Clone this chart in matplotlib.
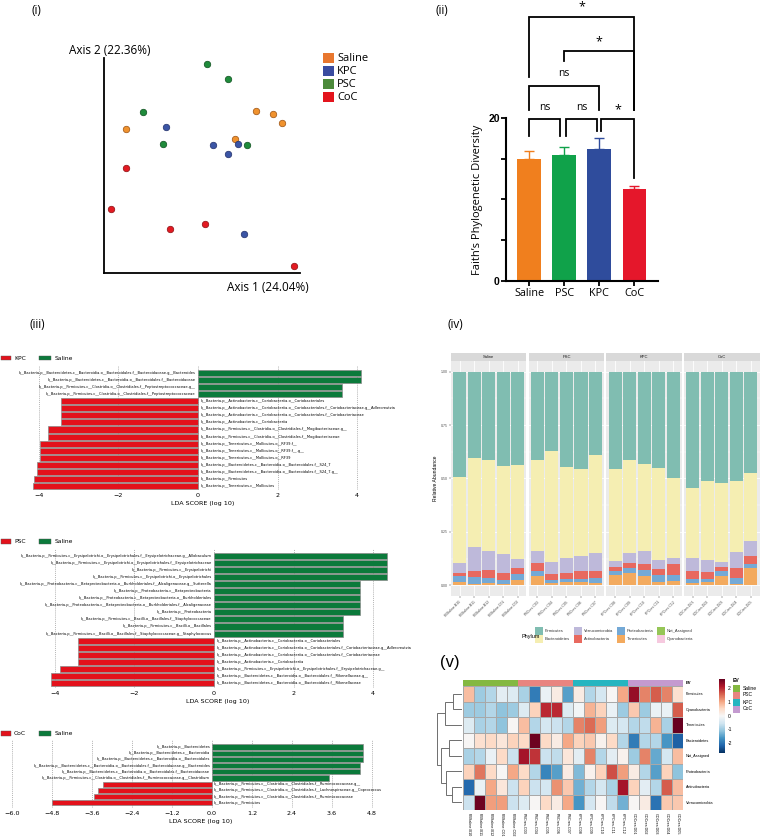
import numpy as np
import matplotlib
matplotlib.use("Agg")
import matplotlib.pyplot as plt
from matplotlib.patches import Rectangle
from matplotlib.cm import ScalarMappable
from matplotlib.colors import Normalize

plt.rcParams['font.family'] = ['DejaVu Sans']
W, H = 761, 838
fig = plt.figure(figsize=(W / 100, H / 100), dpi=100)
fig.patch.set_facecolor('white')

SANS_A = ['Open Sans', 'DejaVu Sans']
SANS_R = ['Liberation Sans', 'DejaVu Sans']

# ---------------------------------------------------------------- data
# (i) PCoA scores
pcoa_groups = ["Saline", "KPC", "PSC", "CoC"]
pc1_saline = [0.276, 0.362, 0.408, -0.388, 0.168]
pc2_saline = [0.253, 0.240, 0.198, 0.170, 0.123]
pc1_kpc = [-0.184, 0.056, 0.184, 0.133, 0.214]
pc2_kpc = [0.179, 0.095, 0.100, 0.053, -0.319]
pc1_psc = [0.026, 0.133, -0.301, -0.199, 0.230]
pc2_psc = [0.472, 0.402, 0.249, 0.100, 0.095]
pc1_coc = [-0.388, -0.464, -0.163, 0.015, 0.469]
pc2_coc = [-0.012, -0.202, -0.295, -0.272, -0.467]

# (ii) Faith's PD
faith_groups = ["Saline", "PSC", "KPC", "CoC"]
faith_mean = [14.95, 15.5, 16.2, 11.25]
faith_sem = [0.95, 1.0, 1.35, 0.35]

# (iii) LEfSe
kpc_names = [
    "k__Bacteria.p__Bacteroidetes.c__Bacteroidia.o__Bacteroidales.f__Bacteroidaceae.g__Bacteroides",
    "k__Bacteria.p__Bacteroidetes.c__Bacteroidia.o__Bacteroidales.f__Bacteroidaceae",
    "k__Bacteria.p__Firmicutes.c__Clostridia.o__Clostridiales.f__Peptostreptococcaceae.g__",
    "k__Bacteria.p__Firmicutes.c__Clostridia.o__Clostridiales.f__Peptostreptococcaceae",
    "k__Bacteria.p__Actinobacteria.c__Coriobacteriia.o__Coriobacteriales",
    "k__Bacteria.p__Actinobacteria.c__Coriobacteriia.o__Coriobacteriales.f__Coriobacteriaceae.g__Adlercreutzia",
    "k__Bacteria.p__Actinobacteria.c__Coriobacteriia.o__Coriobacteriales.f__Coriobacteriaceae",
    "k__Bacteria.p__Actinobacteria.c__Coriobacteriia",
    "k__Bacteria.p__Firmicutes.c__Clostridia.o__Clostridiales.f__Mogibacteriaceae.g__",
    "k__Bacteria.p__Firmicutes.c__Clostridia.o__Clostridiales.f__Mogibacteriaceae",
    "k__Bacteria.p__Tenericutes.c__Mollicutes.o__RF39.f__",
    "k__Bacteria.p__Tenericutes.c__Mollicutes.o__RF39.f__.g__",
    "k__Bacteria.p__Tenericutes.c__Mollicutes.o__RF39",
    "k__Bacteria.p__Bacteroidetes.c__Bacteroidia.o__Bacteroidales.f__S24_7",
    "k__Bacteria.p__Bacteroidetes.c__Bacteroidia.o__Bacteroidales.f__S24_7.g__",
    "k__Bacteria.p__Firmicutes",
    "k__Bacteria.p__Tenericutes.c__Mollicutes",
]
kpc_lda = [4.1, 4.1, 3.61, 3.61, -3.45, -3.45, -3.45, -3.45, -3.78, -3.78,
           -3.97, -3.97, -3.97, -4.05, -4.05, -4.12, -4.14]

psc_names = [
    "k__Bacteria.p__Firmicutes.c__Erysipelotrichi.o__Erysipelotrichales.f__Erysipelotrichaceae.g__Allobaculum",
    "k__Bacteria.p__Firmicutes.c__Erysipelotrichi.o__Erysipelotrichales.f__Erysipelotrichaceae",
    "k__Bacteria.p__Firmicutes.c__Erysipelotrichi",
    "k__Bacteria.p__Firmicutes.c__Erysipelotrichi.o__Erysipelotrichales",
    "k__Bacteria.p__Proteobacteria.c__Betaproteobacteria.o__Burkholderiales.f__Alcaligenaceae.g__Sutterella",
    "k__Bacteria.p__Proteobacteria.c__Betaproteobacteria",
    "k__Bacteria.p__Proteobacteria.c__Betaproteobacteria.o__Burkholderiales",
    "k__Bacteria.p__Proteobacteria.c__Betaproteobacteria.o__Burkholderiales.f__Alcaligenaceae",
    "k__Bacteria.p__Proteobacteria",
    "k__Bacteria.p__Firmicutes.c__Bacilli.o__Bacillales.f__Staphylococcaceae",
    "k__Bacteria.p__Firmicutes.c__Bacilli.o__Bacillales",
    "k__Bacteria.p__Firmicutes.c__Bacilli.o__Bacillales.f__Staphylococcaceae.g__Staphylococcus",
    "k__Bacteria.p__Actinobacteria.c__Coriobacteriia.o__Coriobacteriales",
    "k__Bacteria.p__Actinobacteria.c__Coriobacteriia.o__Coriobacteriales.f__Coriobacteriaceae.g__Adlercreutzia",
    "k__Bacteria.p__Actinobacteria.c__Coriobacteriia.o__Coriobacteriales.f__Coriobacteriaceae",
    "k__Bacteria.p__Actinobacteria.c__Coriobacteriia",
    "k__Bacteria.p__Firmicutes.c__Erysipelotrichi.o__Erysipelotrichales.f__Erysipelotrichaceae.g__",
    "k__Bacteria.p__Bacteroidetes.c__Bacteroidia.o__Bacteroidales.f__Rikenellaceae.g__",
    "k__Bacteria.p__Bacteroidetes.c__Bacteroidia.o__Bacteroidales.f__Rikenellaceae",
]
psc_lda = [4.35, 4.35, 4.35, 4.35, 3.67, 3.67, 3.67, 3.67, 3.67, 3.25, 3.25, 3.25,
           -3.42, -3.42, -3.42, -3.42, -3.87, -4.1, -4.1]

coc_names = [
    "k__Bacteria.p__Bacteroidetes",
    "k__Bacteria.p__Bacteroidetes.c__Bacteroidia",
    "k__Bacteria.p__Bacteroidetes.c__Bacteroidia.o__Bacteroidales",
    "k__Bacteria.p__Bacteroidetes.c__Bacteroidia.o__Bacteroidales.f__Bacteroidaceae.g__Bacteroides",
    "k__Bacteria.p__Bacteroidetes.c__Bacteroidia.o__Bacteroidales.f__Bacteroidaceae",
    "k__Bacteria.p__Firmicutes.c__Clostridia.o__Clostridiales.f__Ruminococcaceae.g__Clostridium",
    "k__Bacteria.p__Firmicutes.c__Clostridia.o__Clostridiales.f__Ruminococcaceae.g__",
    "k__Bacteria.p__Firmicutes.c__Clostridia.o__Clostridiales.f__Lachnospiraceae.g__Coprococcus",
    "k__Bacteria.p__Firmicutes.c__Clostridia.o__Clostridiales.f__Ruminococcaceae",
    "k__Bacteria.p__Firmicutes",
]
coc_lda = [4.54, 4.54, 4.54, 4.44, 4.44, 3.51, -3.27, -3.42, -3.55, -4.8]

# (iv) relative abundance
facet_groups = ["Saline", "PSC", "KPC", "CoC"]
sample_ids = ["PBSaline.B10", "PBSaline.B11", "PBSaline.B12", "PBSaline.C01", "PBSaline.C02",
              "PSCres.C03", "PSCres.C04", "PSCres.C05", "PSCres.C06", "PSCres.C07",
              "KPCres.C08", "KPCres.C09", "KPCres.C10", "KPCres.C11", "KPCres.C12",
              "COCres.D01", "COCres.D02", "COCres.D03", "COCres.D04", "COCres.D05"]
phyla = ["Firmicutes", "Bacteroidetes", "Verrucomicrobia", "Actinobacteria",
         "Proteobacteria", "Tenericutes", "Not_Assigned", "Cyanobacteria"]
ab_firmicutes = [0.492, 0.402, 0.412, 0.441, 0.437, 0.412, 0.371, 0.444, 0.455, 0.388,
                 0.457, 0.412, 0.432, 0.449, 0.499, 0.546, 0.510, 0.521, 0.512, 0.473]
ab_bacteroidetes = [0.403, 0.419, 0.426, 0.414, 0.438, 0.429, 0.518, 0.426, 0.409, 0.459,
                    0.427, 0.435, 0.408, 0.432, 0.371, 0.327, 0.370, 0.369, 0.334, 0.319]
ab_verrucomicrobia = [0.046, 0.113, 0.088, 0.085, 0.046, 0.053, 0.059, 0.073, 0.067, 0.084,
                      0.028, 0.047, 0.060, 0.043, 0.031, 0.058, 0.058, 0.025, 0.074, 0.072]
ab_actinobacteria = [0.017, 0.029, 0.040, 0.034, 0.028, 0.037, 0.026, 0.029, 0.041, 0.035,
                     0.022, 0.026, 0.027, 0.027, 0.053, 0.038, 0.033, 0.019, 0.048, 0.037]
ab_proteobacteria = [0.025, 0.029, 0.023, 0.022, 0.028, 0.024, 0.015, 0.013, 0.014, 0.022,
                     0.017, 0.021, 0.030, 0.032, 0.027, 0.022, 0.015, 0.021, 0.027, 0.019]
ab_tenericutes = [0.015, 0.006, 0.009, 0.002, 0.021, 0.043, 0.009, 0.013, 0.012, 0.010,
                  0.047, 0.057, 0.041, 0.015, 0.017, 0.007, 0.012, 0.043, 0.003, 0.078]
ab_not_assigned = [0.001, 0.001, 0.001, 0.001, 0.001, 0.001, 0.001, 0.001, 0.001, 0.001,
                   0.001, 0.001, 0.001, 0.001, 0.001, 0.001, 0.001, 0.001, 0.001, 0.001]
ab_cyanobacteria = [0.001, 0.001, 0.001, 0.001, 0.001, 0.001, 0.001, 0.001, 0.001, 0.001,
                    0.001, 0.001, 0.001, 0.001, 0.001, 0.001, 0.001, 0.001, 0.001, 0.001]

# (v) heatmap (row z-scores)
hm_rows = ["Firmicutes", "Cyanobacteria", "Tenericutes", "Bacteroidetes",
           "Not_Assigned", "Proteobacteria", "Actinobacteria", "Verrucomicrobia"]
hm_firmicutes = [0.8, -1.0, -0.8, -0.3, -0.4, -0.9, -1.9, -0.2, 0.2, -1.5,
                 0.2, -0.8, -0.5, 0.0, 1.0, 2.3, 1.3, 1.6, 1.3, 0.4]
hm_cyanobacteria = [-1.0, -1.0, -0.8, -1.1, -1.0, -0.4, 0.6, 2.0, 2.0, -0.4,
                    -0.1, 0.9, 0.6, -0.2, -1.0, 0.7, -1.0, -0.2, -0.2, 1.6]
hm_tenericutes = [-0.4, -0.9, -0.8, -1.1, 0.0, 0.8, -0.8, -0.5, -0.6, -0.8,
                  1.3, 1.5, 1.1, -0.4, -0.5, -0.8, -0.7, 0.9, -0.9, 2.65]
hm_bacteroidetes = [0.0, 0.4, 0.5, 0.3, 0.6, 0.5, 2.6, 0.5, 0.2, 1.0,
                    0.6, 0.7, 0.1, 0.5, -0.8, -1.9, -0.8, -0.8, -1.6, -2.2]
hm_not_assigned = [-0.9, -0.8, -0.2, 0.5, -0.6, 2.2, 1.9, -0.6, -0.7, 0.3,
                   -0.3, 1.3, -0.8, -0.3, 0.1, -1.0, 1.3, -1.4, -0.5, 0.8]
hm_proteobacteria = [0.6, 1.4, 0.5, 0.0, 1.0, 0.5, -0.8, -1.8, -1.5, 0.2,
                     -1.2, 0.1, 0.6, 1.7, 1.1, 0.2, -0.8, -1.5, 0.6, -1.1]
hm_actinobacteria = [-2.1, -0.2, 1.0, 0.3, -0.6, 0.6, -0.6, -0.5, 1.2, 0.7,
                     -1.3, -0.8, -0.5, -0.9, 2.2, 0.6, -0.3, -0.8, 1.6, 0.8]
hm_verrucomicrobia = [-0.6, 2.6, 1.1, 1.1, -0.6, -0.4, 0.0, 0.5, 0.2, 1.0,
                      -1.6, -0.5, 0.0, -0.7, -1.3, 0.0, 0.2, -2.0, 0.7, 0.7]
hm_groups = ["Saline"] * 5 + ["PSC"] * 5 + ["KPC"] * 5 + ["CoC"] * 5
# row dendrogram merges: (child a, child b, height); leaves 0-7, clusters 8+
dendro_merges = [(0, 1, 25), (8, 2, 50), (3, 4, 37), (6, 7, 30),
                 (5, 11, 47), (10, 12, 60), (9, 13, 72)]


# ---------------------------------------------------------------- helpers
def axpx(x0, y0, x1, y1):
    return fig.add_axes([x0 / W, 1 - y1 / H, (x1 - x0) / W, (y1 - y0) / H])


def ftext(x, y, s, **kw):
    return fig.text(x / W, 1 - y / H, s, **kw)


def frect(x0, y0, w, h, fc, ec='none', lw=0):
    fig.patches.append(Rectangle((x0 / W, 1 - (y0 + h) / H), w / W, h / H,
                                 transform=fig.transFigure, facecolor=fc,
                                 edgecolor=ec, linewidth=lw))


# panel labels
ftext(32, 10, "(i)", fontsize=8.5, family=SANS_A, va='center')
ftext(435, 10, "(ii)", fontsize=8.5, family=SANS_A, va='center')
ftext(30, 325, "(iii)", fontsize=8.5, family=SANS_A, va='center')
ftext(447, 325, "(iv)", fontsize=8.5, family=SANS_A, va='center')
ftext(440, 662, "(v)", fontsize=12, family=SANS_R, va='center')

# ---------------------------------------------------------------- (i)
ax1 = axpx(104, 58, 300, 273)
pcoa_fill = {"Saline": "#F0922E", "KPC": "#3B55A5", "PSC": "#1F8B3B", "CoC": "#E31A22"}
pcoa_edge = {"Saline": "#9A5212", "KPC": "#22306A", "PSC": "#0E4F1E", "CoC": "#8A0F12"}
pcoa_key = {"Saline": "#E8772E", "KPC": "#3A4CA0", "PSC": "#4C8A3B", "CoC": "#E3141D"}
pcs = {"Saline": (pc1_saline, pc2_saline), "KPC": (pc1_kpc, pc2_kpc),
       "PSC": (pc1_psc, pc2_psc), "CoC": (pc1_coc, pc2_coc)}
for g in pcoa_groups:
    ax1.scatter(pcs[g][0], pcs[g][1], s=22, c=pcoa_fill[g], edgecolors=pcoa_edge[g],
                linewidths=0.5, zorder=3, clip_on=False)
ax1.set_xlim(-0.5, 0.5)
ax1.set_ylim(-0.5, 0.5)
for s in ['top', 'right']:
    ax1.spines[s].set_visible(False)
for s in ['left', 'bottom']:
    ax1.spines[s].set_linewidth(1.3)
ax1.set_xticks([])
ax1.set_yticks([])
ftext(110, 50, "Axis 2 (22.36%)", fontsize=8.5, family=SANS_A, ha='center', va='center')
ftext(268, 287, "Axis 1 (24.04%)", fontsize=8.5, family=SANS_A, ha='center', va='center')
for i, g in enumerate(pcoa_groups):
    frect(323, 53 + 13 * i, 11, 10.5, pcoa_key[g])
    ftext(337, 58.5 + 13 * i, g, fontsize=8, family=SANS_A, va='center')

# ---------------------------------------------------------------- (ii)
ax2 = axpx(506, 118, 658, 281)
bar_cols = ["#F07F1E", "#10A24A", "#2F4C9C", "#E5172B"]
xb = np.arange(len(faith_groups))
ax2.bar(xb, faith_mean, width=0.68, color=bar_cols, zorder=2)
for i in range(len(xb)):
    ax2.errorbar([xb[i]], [faith_mean[i]], yerr=[[0], [faith_sem[i]]], fmt='none',
                 ecolor=bar_cols[i], elinewidth=1.0, capsize=3.5, capthick=1.0, zorder=3)
ax2.set_xlim(-0.66, 3.67)
ax2.set_ylim(0, 20)
for s in ['top', 'right']:
    ax2.spines[s].set_visible(False)
for s in ['left', 'bottom']:
    ax2.spines[s].set_linewidth(1.5)
ax2.set_yticks([0, 5, 10, 15, 20])
ax2.set_yticklabels(['0', '', '', '', '20'], fontsize=7.5, fontweight='bold', family=SANS_R)
ax2.set_xticks(xb)
ax2.set_xticklabels(faith_groups, fontsize=7.8, family=SANS_A)
ax2.tick_params(axis='both', length=3.5, width=1.3)
ax2.tick_params(axis='x', pad=1.5)
ax2.tick_params(axis='y', pad=1)
ax2.set_ylabel("Faith\u2019s Phylogenetic Diversity", fontsize=8, family=SANS_A, labelpad=4)


def bracket(x1, x2, y, yl1, yl2, txt, ty, fs):
    ax2.plot([x1, x1, x2, x2], [yl1, y, y, yl2], color='black', lw=1.3,
             clip_on=False, solid_joinstyle='miter')
    ax2.text((x1 + x2) / 2, ty, txt, ha='center', va='center', fontsize=fs,
             family=SANS_A, clip_on=False)


bracket(0, 3, 32.4, 25.0, 21.0, "*", 33.6, 9)
bracket(0.99, 3, 28.2, 27.0, 21.0, "*", 29.4, 9)
bracket(0, 2.0, 23.9, 21.0, 21.0, "ns", 25.5, 7.5)
bracket(0, 0.89, 19.9, 17.8, 17.8, "ns", 21.3, 7.5)
bracket(1.06, 1.94, 19.9, 17.8, 18.4, "ns", 21.3, 7.5)
bracket(2.06, 3, 19.9, 18.4, 12.6, "*", 21.0, 9)

# ---------------------------------------------------------------- (iii)
LRED = "#E3111B"
LGREEN = "#0B7A3B"


def lefse(box, names, lda, zero_px, ppu, ticks, fmt, lab_group, legend_y):
    x0, y0, x1, y1, row0, step = box
    ax = axpx(x0, y0, x1, y1)
    n = len(names)
    yy = np.arange(n)
    cols = [LGREEN if v > 0 else LRED for v in lda]
    ax.barh(yy, lda, height=0.86, color=cols, edgecolor='#8a8a8a', linewidth=0.5, zorder=2)
    ax.set_xlim((x0 - zero_px) / ppu, (x1 - zero_px) / ppu)
    ax.set_ylim((y1 - row0) / step, (y0 - row0) / step)
    for yi, v, nm in zip(yy, lda, names):
        if v > 0:
            ax.text(-0.06, yi, nm, ha='right', va='center', fontsize=2.6, zorder=4)
        else:
            ax.text(0.06, yi, nm, ha='left', va='center', fontsize=2.6, zorder=4)
    ax.set_xticks(ticks)
    ax.set_xticklabels([fmt(t) for t in ticks], fontsize=4.6)
    ax.set_yticks([])
    ax.tick_params(axis='x', length=0, pad=2.5)
    for s in ax.spines.values():
        s.set_visible(False)
    ax.grid(axis='x', linestyle=(0, (1.5, 1.5)), color='#9a9a9a', linewidth=0.5)
    ax.set_axisbelow(True)
    ax.patch.set_alpha(0)
    ax.set_xlabel("LDA SCORE (log 10)", fontsize=4.6, labelpad=2)
    # legend
    frect(1, legend_y - 2.5, 10, 5, LRED, ec='#555555', lw=0.3)
    ftext(14, legend_y, lab_group, fontsize=4.3, va='center')
    frect(39, legend_y - 2.5, 12, 5, LGREEN, ec='#555555', lw=0.3)
    ftext(55, legend_y, "Saline", fontsize=4.3, va='center')
    return ax


def int_fmt(t):
    return "%d" % t if t >= 0 else "\u2212%d" % -t


def dec_fmt(t):
    return "%.1f" % t if t >= 0 else "\u2212%.1f" % -t


lefse((33, 366, 372, 490, 373, 7.06), kpc_names, kpc_lda, 198, 39.8,
      [-4, -2, 0, 2, 4], int_fmt, "KPC", 358)
lefse((40, 549, 395, 688, 556, 7.05), psc_names, psc_lda, 214, 39.8,
      [-4, -2, 0, 2, 4], int_fmt, "PSC", 541)
lefse((10, 740, 392, 808, 747, 6.2), coc_names, coc_lda, 212, 33.3,
      [-6.0, -4.8, -3.6, -2.4, -1.2, 0.0, 1.2, 2.4, 3.6, 4.8], dec_fmt, "CoC", 733)

# ---------------------------------------------------------------- (iv)
phylum_cols = {"Firmicutes": "#80BDB1", "Bacteroidetes": "#F5EEB2", "Verrucomicrobia": "#BEB9DA",
               "Actinobacteria": "#E8695F", "Proteobacteria": "#74A9D6", "Tenericutes": "#F3AA5E",
               "Not_Assigned": "#96C657", "Cyanobacteria": "#F6C9DF"}
abund = {"Firmicutes": ab_firmicutes, "Bacteroidetes": ab_bacteroidetes,
         "Verrucomicrobia": ab_verrucomicrobia, "Actinobacteria": ab_actinobacteria,
         "Proteobacteria": ab_proteobacteria, "Tenericutes": ab_tenericutes,
         "Not_Assigned": ab_not_assigned, "Cyanobacteria": ab_cyanobacteria}
for k, g in enumerate(facet_groups):
    px0 = 451 + k * 77.7
    px1 = px0 + 75.5
    ax = axpx(px0, 361, px1, 596)
    ax.set_facecolor('#EBEBEB')
    idx = list(range(5 * k, 5 * k + 5))
    xs = np.arange(1, 6)
    bottom = np.zeros(5)
    for ph in phyla[::-1]:
        vals = np.array([abund[ph][i] for i in idx])
        ax.bar(xs, vals, bottom=bottom, width=0.9, color=phylum_cols[ph], linewidth=0, zorder=2)
        bottom += vals
    ax.set_xlim(0.4, 5.6)
    ax.set_ylim(-0.05, 1.05)
    ax.set_yticks([0, 0.25, 0.5, 0.75, 1.0])
    ax.set_yticks([0.125, 0.375, 0.625, 0.875], minor=True)
    ax.set_xticks(xs)
    ax.grid(which='major', color='white', linewidth=0.6)
    ax.grid(which='minor', axis='y', color='white', linewidth=0.3)
    ax.set_axisbelow(True)
    for s in ax.spines.values():
        s.set_visible(False)
    ax.set_xticklabels([sample_ids[i] for i in idx], rotation=45, ha='right',
                       rotation_mode='anchor', fontsize=2.6, color='#4D4D4D', family=SANS_R)
    ax.tick_params(axis='both', which='major', length=1.5, width=0.3, color='#333333', pad=1)
    ax.tick_params(axis='both', which='minor', length=0)
    if k == 0:
        ax.set_yticklabels(["0.00", "0.25", "0.50", "0.75", "1.00"], fontsize=2.5,
                           color='#4D4D4D', family=SANS_R)
        ax.set_ylabel("Relative Abundance", fontsize=3.6, family=SANS_R, labelpad=2)
    else:
        ax.set_yticklabels([])
        ax.tick_params(axis='y', length=0)
    # strip
    sax = axpx(px0, 353, px1, 361)
    sax.set_facecolor('#D9D9D9')
    sax.set_xticks([])
    sax.set_yticks([])
    for s in sax.spines.values():
        s.set_visible(False)
    sax.text(0.5, 0.5, g, ha='center', va='center', fontsize=3, color='#1A1A1A',
             family=SANS_R, transform=sax.transAxes)

ftext(522, 636, "Phylum", fontsize=4, family=SANS_R, va='center')
leg_cols_x = [535, 574, 617, 657]
for i, ph in enumerate(phyla):
    c, r = divmod(i, 2)
    frect(leg_cols_x[c], 627 + 8 * r, 7.5, 7.5, phylum_cols[ph])
    ftext(leg_cols_x[c] + 10, 631 + 8 * r, ph, fontsize=3, family=SANS_R, va='center',
          color='#333333')

# ---------------------------------------------------------------- (v)
hm = np.array([hm_firmicutes, hm_cyanobacteria, hm_tenericutes, hm_bacteroidetes,
               hm_not_assigned, hm_proteobacteria, hm_actinobacteria, hm_verrucomicrobia])
norm = Normalize(vmin=-2.7, vmax=2.65)
cmap = plt.get_cmap('RdBu_r')
hax = axpx(463, 686, 683, 810)
hax.pcolormesh(np.arange(21), np.arange(9), hm, cmap=cmap, norm=norm,
               edgecolors='#A8A8A8', linewidth=0.4)
hax.set_xlim(0, 20)
hax.set_ylim(8, 0)
hax.set_xticks(np.arange(20) + 0.5)
hax.set_xticklabels(sample_ids, rotation=270, fontsize=2.7, family=SANS_R, va='top', ha='center')
hax.set_yticks(np.arange(8) + 0.5)
hax.set_yticklabels(hm_rows, fontsize=2.8, family=SANS_R)
hax.yaxis.tick_right()
hax.tick_params(length=0, pad=2)
for s in hax.spines.values():
    s.set_visible(False)

ev_cols = {"Saline": "#84B841", "PSC": "#E88480", "KPC": "#26B5C0", "CoC": "#C49AD0"}
aax = axpx(463, 680, 683, 686)
for j, g in enumerate(hm_groups):
    aax.bar(j + 0.5, 1, width=1.0, color=ev_cols[g], linewidth=0)
aax.set_xlim(0, 20)
aax.set_ylim(0, 1)
aax.set_xticks([])
aax.set_yticks([])
for s in aax.spines.values():
    s.set_visible(False)
ftext(686, 683, "EV", fontsize=3, fontweight='bold', family=SANS_R, va='center')

# dendrogram
dax = axpx(437, 686, 462, 810)
node_y = {i: i + 0.5 for i in range(8)}
node_h = {i: 0.0 for i in range(8)}
for k, (a, b, h) in enumerate(dendro_merges):
    nid = 8 + k
    dax.plot([node_h[a], h, h, node_h[b]], [node_y[a], node_y[a], node_y[b], node_y[b]],
             color='#6E6E6E', lw=0.7, solid_joinstyle='miter')
    node_y[nid] = (node_y[a] + node_y[b]) / 2
    node_h[nid] = h
dax.set_xlim(73, 0)
dax.set_ylim(8, 0)
dax.axis('off')

# colorbar
cax = axpx(719, 679, 725, 753)
cb = fig.colorbar(ScalarMappable(norm=norm, cmap=cmap), cax=cax, ticks=[-2, -1, 0, 1, 2])
cb.outline.set_visible(False)
cb.ax.tick_params(labelsize=3.6, length=0, pad=2)
cb.ax.set_yticklabels(["-2", "-1", "0", "1", "2"], family=SANS_R)

ftext(733, 680, "EV", fontsize=3.6, fontweight='bold', family=SANS_R, va='center')
for i, g in enumerate(facet_groups):
    frect(733, 684.5 + 7 * i, 7, 7, ev_cols[g])
    ftext(743, 688 + 7 * i, g, fontsize=3.6, family=SANS_R, va='center')

fig.savefig("out.png", dpi=100, facecolor='white')
